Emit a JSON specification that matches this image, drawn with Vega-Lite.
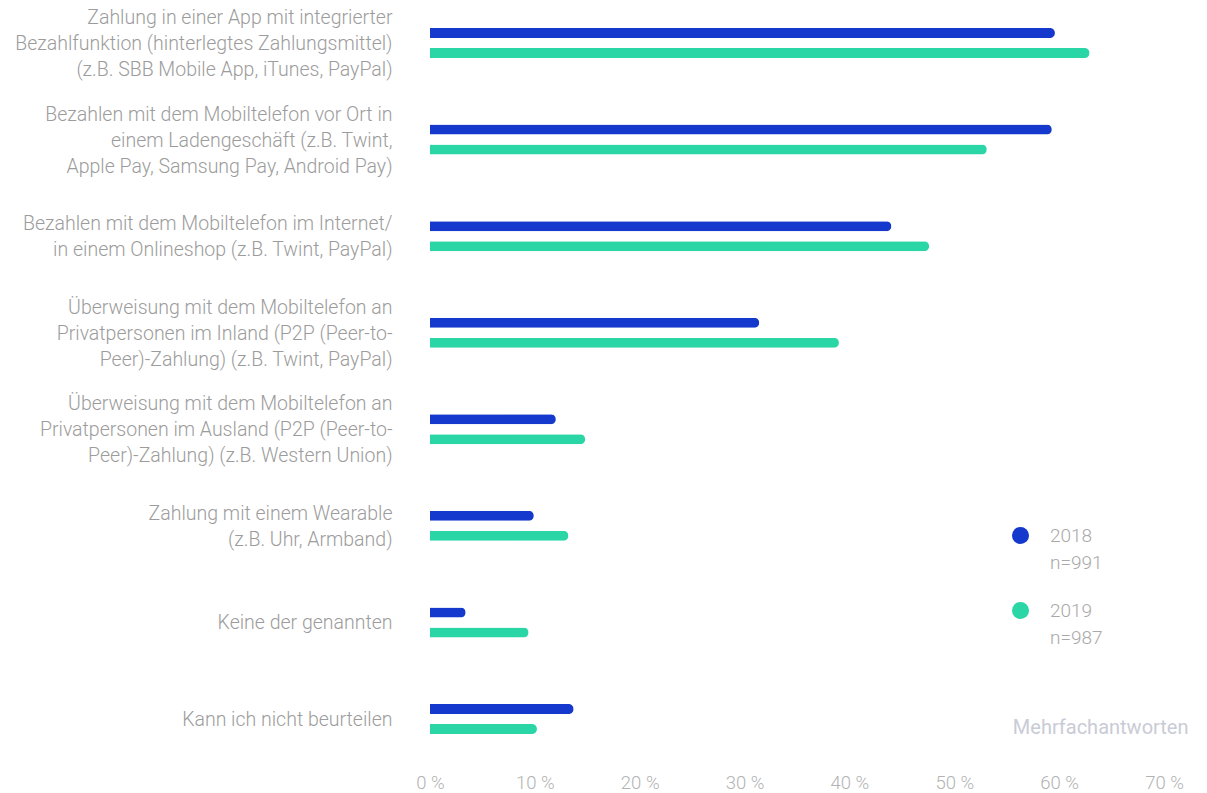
{
  "$schema": "https://vega.github.io/schema/vega-lite/v6.json",
  "width": 734,
  "height": 762,
  "autosize": "none",
  "padding": {"left": 430, "top": 0, "right": 43, "bottom": 31},
  "background": "white",
  "config": {
    "view": {"stroke": null},
    "font": "Roboto",
    "style": {"guide-label": {"lineHeight": 27}}
  },
  "data": {
    "values": [
      {"cat": "Zahlung in einer App mit integrierter|Bezahlfunktion (hinterlegtes Zahlungsmittel)|(z.B. SBB Mobile App, iTunes, PayPal)", "year": "2018", "value": 59.6},
      {"cat": "Zahlung in einer App mit integrierter|Bezahlfunktion (hinterlegtes Zahlungsmittel)|(z.B. SBB Mobile App, iTunes, PayPal)", "year": "2019", "value": 62.9},
      {"cat": "Bezahlen mit dem Mobiltelefon vor Ort in|einem Ladengeschäft (z.B. Twint,|Apple Pay, Samsung Pay, Android Pay)", "year": "2018", "value": 59.3},
      {"cat": "Bezahlen mit dem Mobiltelefon vor Ort in|einem Ladengeschäft (z.B. Twint,|Apple Pay, Samsung Pay, Android Pay)", "year": "2019", "value": 53.1},
      {"cat": "Bezahlen mit dem Mobiltelefon im Internet/|in einem Onlineshop (z.B. Twint, PayPal)", "year": "2018", "value": 44.0},
      {"cat": "Bezahlen mit dem Mobiltelefon im Internet/|in einem Onlineshop (z.B. Twint, PayPal)", "year": "2019", "value": 47.6},
      {"cat": "Überweisung mit dem Mobiltelefon an|Privatpersonen im Inland (P2P (Peer-to-|Peer)-Zahlung) (z.B. Twint, PayPal)", "year": "2018", "value": 31.4},
      {"cat": "Überweisung mit dem Mobiltelefon an|Privatpersonen im Inland (P2P (Peer-to-|Peer)-Zahlung) (z.B. Twint, PayPal)", "year": "2019", "value": 39.0},
      {"cat": "Überweisung mit dem Mobiltelefon an|Privatpersonen im Ausland (P2P (Peer-to-|Peer)-Zahlung) (z.B. Western Union)", "year": "2018", "value": 12.0},
      {"cat": "Überweisung mit dem Mobiltelefon an|Privatpersonen im Ausland (P2P (Peer-to-|Peer)-Zahlung) (z.B. Western Union)", "year": "2019", "value": 14.8},
      {"cat": "Zahlung mit einem Wearable|(z.B. Uhr, Armband)", "year": "2018", "value": 9.9},
      {"cat": "Zahlung mit einem Wearable|(z.B. Uhr, Armband)", "year": "2019", "value": 13.2},
      {"cat": "Keine der genannten", "year": "2018", "value": 3.4},
      {"cat": "Keine der genannten", "year": "2019", "value": 9.4},
      {"cat": "Kann ich nicht beurteilen", "year": "2018", "value": 13.7},
      {"cat": "Kann ich nicht beurteilen", "year": "2019", "value": 10.2}
    ]
  },
  "mark": {"type": "bar", "cornerRadiusEnd": 5},
  "encoding": {
    "y": {
      "field": "cat",
      "type": "nominal",
      "sort": null,
      "scale": {"paddingInner": 0.689, "paddingOuter": 0.29},
      "axis": {
        "title": null,
        "domain": false,
        "ticks": false,
        "labelPadding": 38,
        "labelExpr": "length(split(datum.label, '|')) == 1 ? ['', datum.label] : split(datum.label, '|')",
        "labelOffset": -25,
        "labelBaseline": {"condition": {"test": "length(split(datum.value, '|')) == 2", "value": "line-top"}, "value": "middle"},
        "labelFont": "Roboto",
        "labelFontWeight": 300,
        "labelFontSize": 19.5,
        "labelColor": "#9c9c9c",
        "labelLineHeight": 26,
        "labelLimit": 500
      }
    },
    "yOffset": {
      "field": "year",
      "type": "nominal",
      "scale": {"paddingInner": 0.5, "paddingOuter": 0}
    },
    "x": {
      "field": "value",
      "type": "quantitative",
      "scale": {"domain": [0, 70], "nice": false},
      "axis": {
        "values": [0, 10, 20, 30, 40, 50, 60, 70],
        "labelExpr": "datum.value + ' %'",
        "labelFlush": false,
        "grid": false,
        "domain": false,
        "ticks": false,
        "labelPadding": 11,
        "labelFont": "Roboto",
        "labelFontWeight": 300,
        "labelFontSize": 18.5,
        "labelColor": "#b3b3b3",
        "title": "Mehrfachantworten",
        "titleX": 758,
        "titleY": -35,
        "titleAlign": "right",
        "titleAnchor": "end",
        "titleBaseline": "middle",
        "titleFont": "Roboto",
        "titleFontWeight": 400,
        "titleFontSize": 20,
        "titleColor": "#c9cbd6"
      }
    },
    "color": {
      "field": "year",
      "type": "nominal",
      "scale": {"domain": ["2018", "2019"], "range": ["#1439cc", "#2ad6a6"]},
      "legend": {
        "orient": "none",
        "legendX": 581,
        "legendY": 526,
        "title": null,
        "padding": 0,
        "symbolType": "circle",
        "symbolSize": 290,
        "symbolStrokeWidth": 0,
        "labelOffset": 20,
        "labelFont": "Roboto",
        "labelFontWeight": 300,
        "labelFontSize": 19,
        "labelColor": "#a8a8a8",
        "labelBaseline": "middle",
        "labelExpr": "[datum.label, datum.label == '2018' ? 'n=991' : 'n=987']",
        "rowPadding": 28
      }
    }
  }
}
